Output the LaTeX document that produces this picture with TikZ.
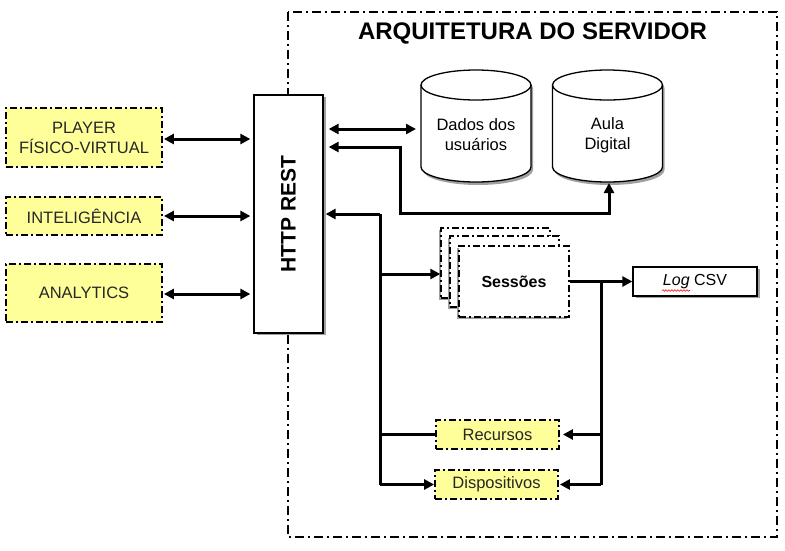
\documentclass[tikz,border=0pt]{standalone}
\usepackage{fontspec}
\setmainfont{Liberation Sans}
\usetikzlibrary{arrows.meta,shadows,decorations.pathmorphing,calc}
\definecolor{yfill}{RGB}{255,255,153}
\definecolor{shade}{RGB}{160,160,160}
\tikzset{
  ybox/.style={draw, fill=yfill, line width=1.8pt, dash pattern=on 7pt off 3pt on 2pt off 3pt,
     align=center, inner sep=0pt, font=\fontsize{16.5}{20}\selectfont, text=black!85},
  sbox/.style={draw, fill=white, line width=1.4pt, dash pattern=on 7pt off 3pt on 2pt off 3pt,
     inner sep=0pt, drop shadow={shadow xshift=-2pt, shadow yshift=-2pt, fill=shade, opacity=1}},
  wbox/.style={draw, fill=white, line width=1.3pt, inner sep=0pt,
     drop shadow={shadow xshift=3pt, shadow yshift=-2pt, fill=shade, opacity=1}},
  conn/.style={line width=3pt},
  tip/.style={-{Triangle[length=10pt,width=10pt]}},
  tips/.style={{Triangle[length=10pt,width=10pt]}-{Triangle[length=10pt,width=10pt]}},
  lbl/.style={font=\fontsize{16.5}{20}\selectfont, align=center},
}
\begin{document}
\begin{tikzpicture}[x=1pt,y=-1pt]
\useasboundingbox (0,0) rectangle (785,550);
\fill[white] (0,0) rectangle (785,550);

% outer server box
\draw[line width=2pt, dash pattern=on 9pt off 4pt on 2pt off 4pt] (288,12) rectangle (777,537);
\node[font=\fontsize{24}{27}\selectfont\bfseries] (title) at (532.5,33) {ARQUITETURA DO SERVIDOR};

% left boxes
\node[ybox, minimum width=156pt, minimum height=59pt] (player) at (84,137.5) {PLAYER\\FÍSICO-VIRTUAL};
\node[ybox, minimum width=156pt, minimum height=38pt] (intel) at (84,216) {INTELIGÊNCIA};
\node[ybox, minimum width=156pt, minimum height=58pt] (analytics) at (84,293) {ANALYTICS};

% HTTP REST
\node[wbox, minimum width=69pt, minimum height=238pt] (http) at (288.5,214) {};
\node[rotate=90, font=\fontsize{21}{23}\selectfont\bfseries] (httpt) at (http.center) {HTTP REST};

% cylinders
\foreach \cx/\nm in {476/dados, 607.5/aula}{
  \path[fill=white, drop shadow={shadow xshift=2pt, shadow yshift=-3pt, fill=shade, opacity=1}]
    (\cx-55,85) -- (\cx-55,167) arc[start angle=180,end angle=0,x radius=55,y radius=15]
    -- (\cx+55,85) arc[start angle=0,end angle=-180,x radius=55,y radius=15] -- cycle;
  \draw[line width=1.3pt] (\cx-55,85) -- (\cx-55,167) arc[start angle=180,end angle=0,x radius=55,y radius=15]
    -- (\cx+55,85) arc[start angle=0,end angle=-180,x radius=55,y radius=15] -- cycle;
  \draw[line width=1.3pt] (\cx-55,85) arc[start angle=180,end angle=0,x radius=55,y radius=15];
}
\node[lbl] (dados) at (476,135) {Dados dos\\usuários};
\node[lbl] (aula) at (607.5,135) {Aula\\Digital};

% sessions stack
\node[sbox, minimum width=109pt, minimum height=70pt] (s1) at (495.5,263) {};
\node[sbox, minimum width=109pt, minimum height=71pt] (s2) at (504.5,271.5) {};
\node[sbox, minimum width=110pt, minimum height=71pt] (s3) at (514,281.5) {};
\node[font=\fontsize{16}{18}\selectfont\bfseries] (sess) at (s3.center) {Sessões};

% Log CSV
\node[wbox, minimum width=124pt, minimum height=29pt, font=\fontsize{16}{18}\selectfont] (log) at (695,281.5) {\textit{Log} CSV};
\draw[red, line width=0.6pt, decorate, decoration={snake, amplitude=0.8pt, segment length=3pt}] (662,290.5) -- (690,290.5);

% Recursos / Dispositivos
\node[ybox, minimum width=123pt, minimum height=29pt] (rec) at (497.5,434.5) {Recursos};
\node[ybox, minimum width=123pt, minimum height=29pt] (disp) at (496.5,484.5) {Dispositivos};

% left connectors
\draw[conn, tips] ([xshift=1pt]player.east |- 0,139) -- ([xshift=-3pt]http.west |- 0,139);
\draw[conn, tips] ([xshift=1pt]intel.east |- 0,216) -- ([xshift=-3pt]http.west |- 0,216);
\draw[conn, tips] ([xshift=1pt]analytics.east |- 0,294) -- ([xshift=-3pt]http.west |- 0,294);

% right connectors
\coordinate (dadosW) at (416,129);
\draw[conn, tips] ([xshift=5pt]http.east |- dadosW) -- (dadosW);

\coordinate (aulaS) at (609,183);
\coordinate (a1) at (400,147);
\coordinate (a2) at (400,213);
\coordinate (a3) at (609,213);
\draw[conn, tips] ([xshift=5pt]http.east |- a1) -- (a1) -- (a2) -- (a3) -- (aulaS);

\coordinate (b0) at (380,214);
\coordinate (b1) at (380,274);
\coordinate (b2) at (380,434.5);
\coordinate (b3) at (380,484.5);
\draw[conn, tip] (b0) -- ([xshift=2pt]http.east |- b0);
\draw[conn] (b0) -- (b3);
\draw[conn, tip] (b1) -- (s1.west |- b1);
\draw[line width=2.4pt] (b2) -- (rec.west);
\draw[conn, tip] (b3) -- (disp.west);

\coordinate (c0) at (601,281.5);
\coordinate (c1) at (601,434.5);
\coordinate (c2) at (601,484.5);
\draw[conn, tip] (s3.east) -- (log.west);
\draw[conn] (c0) -- (c2);
\draw[conn, tip] (c1) -- ([xshift=3pt]rec.east);
\draw[conn, tip] (c2) -- ([xshift=1pt]disp.east);
\end{tikzpicture}
\end{document}
